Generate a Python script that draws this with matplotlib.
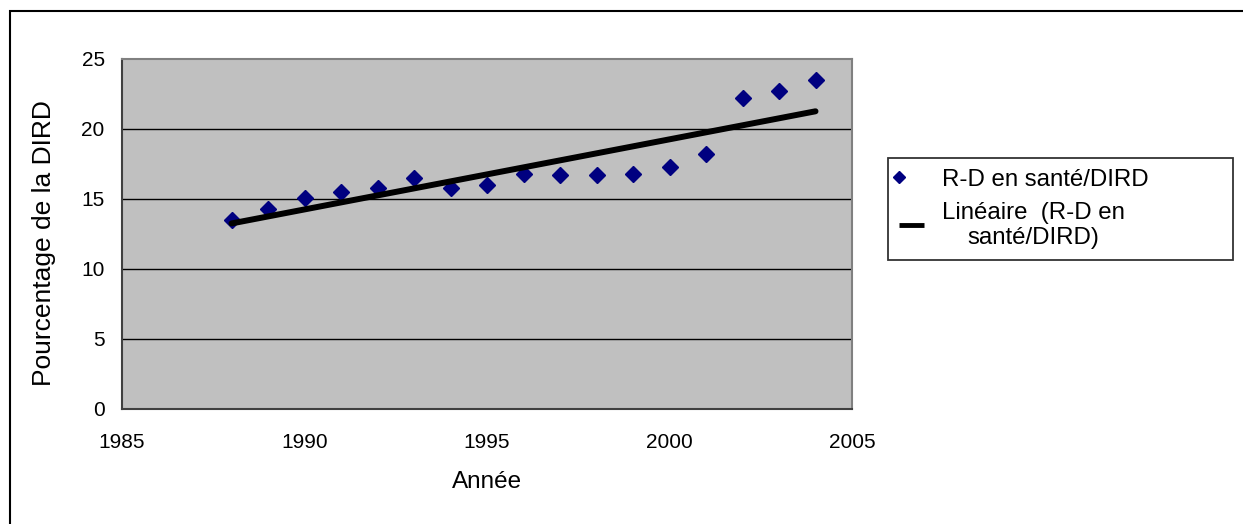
"""R-D en santé / DIRD, 1988-2004, with linear trend."""

import matplotlib

matplotlib.use("Agg")
import matplotlib.pyplot as plt
import numpy as np
from matplotlib.patches import Rectangle

years = [1988, 1989, 1990, 1991, 1992, 1993, 1994, 1995, 1996,
         1997, 1998, 1999, 2000, 2001, 2002, 2003, 2004]
share = [13.5, 14.3, 15.1, 15.5, 15.8, 16.5, 15.8, 16.0, 16.8,
         16.7, 16.7, 16.8, 17.3, 18.2, 22.2, 22.7, 23.5]

x_ticks = [1985, 1990, 1995, 2000, 2005]
y_ticks = [0, 5, 10, 15, 20, 25]

series_label = "R-D en santé/DIRD"
trend_label = "Linéaire  (R-D en\nsanté/DIRD)"


def main() -> None:
    plt.rcParams["font.family"] = ["Liberation Sans", "DejaVu Sans"]

    fig = plt.figure(figsize=(12.43, 5.24), dpi=100)
    ax = fig.add_axes([122 / 1243, 1 - 409 / 524, 730 / 1243, 350 / 524])
    ax.set_facecolor("#c0c0c0")

    x = np.array(years, dtype=float)
    y = np.array(share, dtype=float)
    slope, intercept = np.polyfit(x, y, 1)

    ax.plot(x, y, linestyle="none", marker="D", markersize=7.8,
            color="#000080", label=series_label, zorder=3)
    ax.plot([x[0], x[-1]], [slope * x[0] + intercept, slope * x[-1] + intercept],
            color="black", linewidth=4.3, solid_capstyle="round",
            label=trend_label, zorder=4)

    ax.set_xlim(1985, 2005)
    ax.set_ylim(0, 25)
    ax.set_xticks(x_ticks)
    ax.set_yticks(y_ticks)
    ax.tick_params(length=0, labelsize=15)
    ax.tick_params(axis="y", pad=12.5)
    ax.tick_params(axis="x", pad=17)
    for v in y_ticks[1:-1]:
        ax.axhline(v, color="black", linewidth=1.0, zorder=1)
    for side in ax.spines.values():
        side.set_color("#808080")
        side.set_linewidth(1.5)
    ax.spines["bottom"].set_color("#404040")
    ax.spines["left"].set_color("#404040")

    ax.set_xlabel("Année", fontsize=17.5, labelpad=14)
    ax.set_ylabel("Pourcentage de la DIRD", fontsize=19)
    ax.yaxis.set_label_coords(-0.091, 0.474)

    leg = fig.legend(loc="upper left",
                     bbox_to_anchor=(888 / 1243, 1 - 257 / 524, 345 / 1243, 99 / 524),
                     mode="expand", fontsize=17.3, frameon=True, fancybox=False,
                     borderpad=0.45, handlelength=1.05, handletextpad=0.75,
                     labelspacing=0.45, borderaxespad=0)
    leg.get_frame().set_edgecolor("black")
    leg.get_frame().set_linewidth(1.3)
    leg.legend_handles[0].set_markersize(6)
    leg.legend_handles[0].set_markevery([0])
    leg.legend_handles[1].set_linewidth(3.5)
    leg.legend_handles[1].set_solid_capstyle("butt")
    for t in leg.get_texts():
        t.set_multialignment("center")

    fig.patches.append(Rectangle((10 / 1243, -0.1), 1.2, 1.1 - 11 / 524,
                                 transform=fig.transFigure, fill=False,
                                 edgecolor="black", linewidth=1.5))

    fig.savefig("out.png", dpi=100)


if __name__ == "__main__":
    main()
